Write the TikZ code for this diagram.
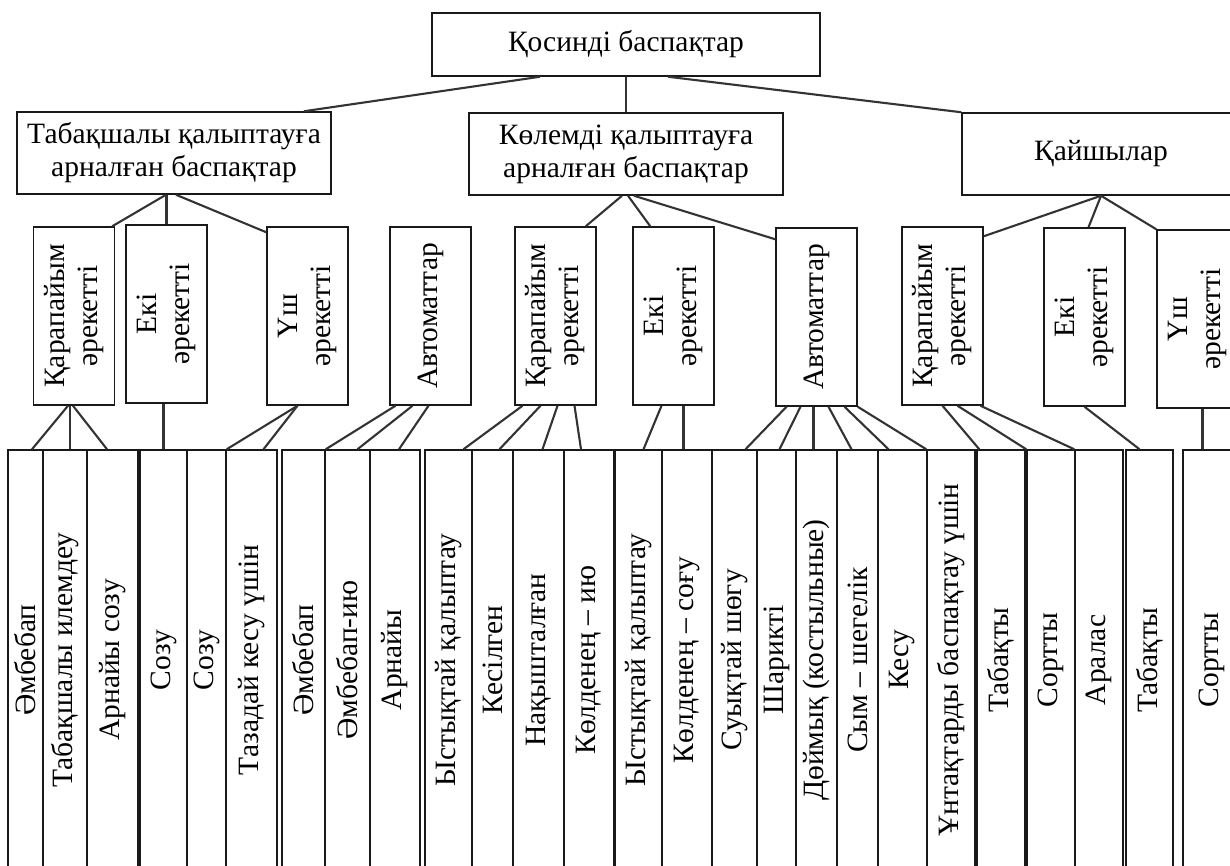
\documentclass[tikz,border=0pt]{standalone}
\usepackage{fontspec}
\setmainfont{Liberation Serif}
\usetikzlibrary{calc}
\newcommand{\diagfont}{\fontsize{29.5pt}{33pt}\selectfont}
\newcommand{\uptext}[1]{\rotatebox{90}{\begin{tabular}{@{}c@{}}#1\end{tabular}}}
\tikzset{
	box/.style={draw=black!90, line width=1.5pt, inner sep=0pt, align=center, font=\diagfont},
	kind/.style={box, minimum width=81pt, minimum height=178pt},
	leaf/.style={box, minimum height=420pt},
	link/.style={draw=black!80, line width=2.1pt}
}

\begin{document}
\begin{tikzpicture}[x=1pt, y=-1pt]
			%%%%% START %%%%%
			\useasboundingbox (0,0) rectangle (1230,865);
			
			\node[box, minimum width=388pt, minimum height=63pt] (top) at (626,44.5) {Қосинді баспақтар};
			
			\node[box, minimum width=314pt, minimum height=82pt] (tab) at (174,153) {Табақшалы қалыптауға\\арналған баспақтар};
			\node[box, minimum width=314pt, minimum height=82pt] (kol) at (626,154) {Көлемді қалыптауға\\арналған баспақтар};
			\node[box, minimum width=278pt, minimum height=82pt] (kaj) at (1101,154) {Қайшылар};
			
			\draw[link] ($(top.south)+(-86,0)$) -- ($(tab.north)+(130,0)$);
			\draw[link] (top.south) -- (kol.north);
			\draw[link] ($(top.south)+(42,0)$) -- (kaj.north west);
			
			\node[kind] (kar1) at (74,316) {\uptext{Қарапайым\\әрекетті}};
			\node[kind] (eki1) at (166.5,314) {\uptext{Екі\\әрекетті}};
			\node[kind] (ush1) at (307.5,316) {\uptext{Үш\\әрекетті}};
			\node[kind] (avt1) at (430.5,316) {\uptext{Автоматтар}};
			\node[kind] (kar2) at (555.5,316) {\uptext{Қарапайым\\әрекетті}};
			\node[kind] (eki2) at (673.5,316) {\uptext{Екі\\әрекетті}};
			\node[kind] (avt2) at (816.5,317) {\uptext{Автоматтар}};
			\node[kind] (kar3) at (942.5,316) {\uptext{Қарапайым\\әрекетті}};
			\node[kind] (eki3) at (1084.5,317) {\uptext{Екі\\әрекетті}};
			\node[kind] (ush3) at (1197.5,319) {\uptext{Үш\\әрекетті}};
			
			\draw[link] ($(tab.south)+(-8,0)$) -- ($(kar1.north east)+(-3,0)$);
			\draw[link] (eki1.north |- tab.south) -- (eki1.north);
			\draw[link] ($(tab.south)+(2,0)$) -- ($(ush1.north west)+(0,6)$);
			
			\draw[link] ($(kol.south)+(-4,0)$) -- ($(kar2.north east)+(-11,0)$);
			\draw[link] ($(kol.south)+(2,0)$) -- ($(eki2.north west)+(18,0)$);
			\draw[link] ($(kol.south)+(8,0)$) -- ($(avt2.north west)+(0,12)$);
			
			\draw[link] (kaj.south) -- ($(kar3.north east)+(0,10)$);
			\draw[link] (kaj.south) -- ($(eki3.north)+(4,0)$);
			\draw[link] (kaj.south) -- (ush3.north west);
			
			\node[leaf, minimum width=35pt] (emb1) at (25.5,660) {\rotatebox{90}{Әмбебап}};
			\node[leaf, minimum width=44pt] (tabil) at (65,660) {\rotatebox{90}{Табақшалы илемдеу}};
			\node[leaf, minimum width=51pt] (arsoz) at (112.5,660) {\rotatebox{90}{Арнайы созу}};
			\node[leaf, minimum width=47pt] (soz1) at (163.5,660) {\rotatebox{90}{Созу}};
			\node[leaf, minimum width=39pt] (soz2) at (206.5,660) {\rotatebox{90}{Созу}};
			\node[leaf, minimum width=51pt] (taz) at (251.5,660) {\rotatebox{90}{Тазадай кесу үшін}};
			\node[leaf, minimum width=43pt] (emb2) at (303.5,660) {\rotatebox{90}{Әмбебап}};
			\node[leaf, minimum width=45pt] (embiy) at (347.5,660) {\rotatebox{90}{Әмбебап-ию}};
			\node[leaf, minimum width=50pt] (arn) at (395,660) {\rotatebox{90}{Арнайы}};
			\node[leaf, minimum width=47pt] (ystyk1) at (448.5,660) {\rotatebox{90}{Ыстықтай қалыптау}};
			\node[leaf, minimum width=41pt] (kesil) at (492.5,660) {\rotatebox{90}{Кесілген}};
			\node[leaf, minimum width=51pt] (nakysh) at (538.5,660) {\rotatebox{90}{Нақышталған}};
			\node[leaf, minimum width=50pt] (kolio) at (589,660) {\rotatebox{90}{Көлденең – ию}};
			\node[leaf, minimum width=47pt] (ystyk2) at (638.5,660) {\rotatebox{90}{Ыстықтай қалыптау}};
			\node[leaf, minimum width=50pt] (kolsog) at (687,660) {\rotatebox{90}{Көлденең – соғу}};
			\node[leaf, minimum width=45pt] (suyk) at (734.5,660) {\rotatebox{90}{Суықтай шөгу}};
			\node[leaf, minimum width=39pt] (shar) at (776.5,660) {\rotatebox{90}{Шарикті}};
			\node[leaf, minimum width=41pt] (doim) at (816.5,660) {\rotatebox{90}{Дөймық (костыльные)}};
			\node[leaf, minimum width=41pt] (sym) at (857.5,660) {\rotatebox{90}{Сым – шегелік}};
			\node[leaf, minimum width=49pt] (kesu) at (902.5,660) {\rotatebox{90}{Кесу}};
			\node[leaf, minimum width=48pt] (untak) at (951,660) {\rotatebox{90}{Ұнтақтарды баспақтау үшін}};
			\node[leaf, minimum width=48pt] (tabak1) at (1001,660) {\rotatebox{90}{Табақты}};
			\node[leaf, minimum width=48pt] (sort1) at (1051,660) {\rotatebox{90}{Сортты}};
			\node[leaf, minimum width=48pt] (aralas) at (1099,660) {\rotatebox{90}{Аралас}};
			\node[leaf, minimum width=47pt] (tabak2) at (1149.5,660) {\rotatebox{90}{Табақты}};
			\node[leaf, minimum width=57pt] (sort2) at (1211.5,660) {\rotatebox{90}{Сортты}};
			
			\draw[link] ($(kar1.south)+(-6,0)$) -- ($(emb1.north)+(6.5,0)$);
			\draw[link] ($(kar1.south)+(-4,0)$) -- ($(tabil.north)+(5,0)$);
			\draw[link] ($(kar1.south)+(-1,0)$) -- ($(arsoz.north)+(-5.5,0)$);
			
			\draw[link] (soz1.north |- eki1.south) -- (soz1.north);
			
			\draw[link] ($(ush1.south)+(-10,0)$) -- (soz2.north east);
			\draw[link] ($(ush1.south)+(-10,0)$) -- ($(taz.north)+(12,0)$);
			
			\draw[link] ($(avt1.south)+(-35,0)$) -- (emb2.north east);
			\draw[link] ($(avt1.south)+(-18,0)$) -- ($(embiy.north)+(10,0)$);
			\draw[link] ($(avt1.south)+(-2,0)$) -- ($(arn.north)+(4,0)$);
			
			\draw[link] ($(kar2.south)+(-33,0)$) -- ($(ystyk1.north)+(15,0)$);
			\draw[link] ($(kar2.south)+(-15,0)$) -- ($(kesil.north)+(7,0)$);
			\draw[link] ($(kar2.south)+(2,0)$) -- ($(nakysh.north)+(4,0)$);
			\draw[link] ($(kar2.south)+(19,0)$) -- ($(kolio.north)+(-8,0)$);
			
			\draw[link] ($(eki2.south)+(-12,0)$) -- ($(ystyk2.north)+(5,0)$);
			\draw[link] ($(eki2.south)+(10,0)$) coordinate (e2) -- (e2 |- kolsog.north);
			
			\draw[link] ($(avt2.south)+(-30,0)$) -- ($(suyk.north)+(11,0)$);
			\draw[link] ($(avt2.south)+(-16,0)$) -- ($(shar.north)+(3,0)$);
			\draw[link] ($(avt2.south)+(-3,0)$) -- ($(doim.north)+(-3,0)$);
			\draw[link] ($(avt2.south)+(12,0)$) -- ($(sym.north)+(-6,0)$);
			\draw[link] ($(avt2.south)+(28,0)$) -- ($(kesu.north)+(-14,0)$);
			\draw[link] (avt2.south east) -- (untak.north west);
			
			\draw[link] (kar3.south) -- ($(tabak1.north west)+(3,0)$);
			\draw[link] ($(kar3.south)+(15,0)$) -- (sort1.north west);
			\draw[link] ($(kar3.south)+(38,0)$) -- (aralas.north west);
			
			\draw[link] (eki3.south) -- ($(tabak2.north)+(-10,0)$);
			\draw[link] ($(ush3.south)+(5,0)$) coordinate (u3) -- (u3 |- sort2.north);
			
			%%%%% END %%%%%
\end{tikzpicture}
\end{document}
